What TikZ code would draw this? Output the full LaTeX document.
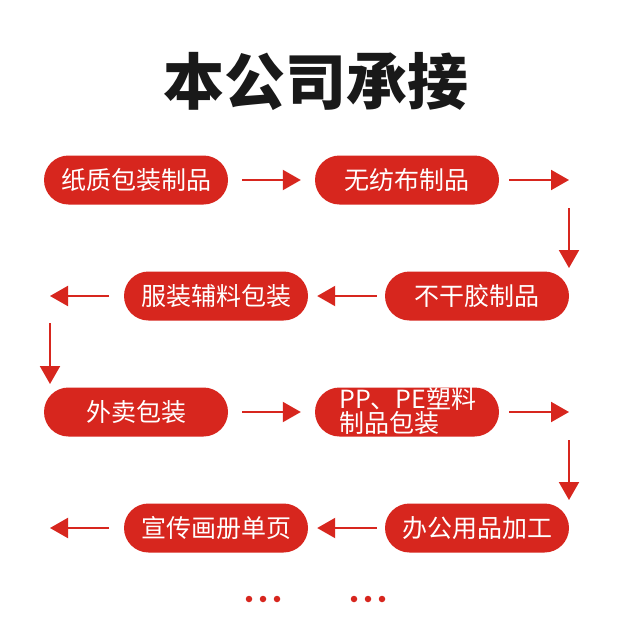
\documentclass[tikz,border=0pt]{standalone}
\usepackage{fontspec}
\newfontfamily\cjk{Noto Sans CJK SC}
\usetikzlibrary{arrows.meta}
\definecolor{brandred}{HTML}{D7261E}
\tikzset{
  pill/.style={fill=brandred, rounded corners=24.5pt, minimum width=184pt, minimum height=49pt,
    inner sep=0pt, text=white, font=\cjk\fontsize{25}{25}\selectfont},
  arr/.style={draw=brandred, line width=2pt, -{Triangle[length=18pt,width=20pt]}},
  dot/.style={circle, fill=brandred, inner sep=0pt, minimum size=6.5pt}
}
\begin{document}
\begin{tikzpicture}[x=1pt,y=-1pt]
\useasboundingbox (0,0) rectangle (633,637);
\fill[white] (0,0) rectangle (633,637);
\node[font=\cjk\bfseries\fontsize{61}{61}\selectfont, text=black!90] (title) at (316,81) {本公司承接};
% row 1
\node[pill] (n1) at (136,180) {纸质包装制品};
\node[pill] (n2) at (407,180) {无纺布制品};
% row 2
\node[pill] (n3) at (477,296) {不干胶制品};
\node[pill] (n4) at (216,296) {服装辅料包装};
% row 3
\node[pill] (n5) at (136,412) {外卖包装};
\node[pill] (n6) at (407,412) {};
\node[font=\cjk\fontsize{25}{21.5}\selectfont, text=white, align=left, anchor=west, inner sep=0pt] (n6t) at (339,411) {PP、PE塑料\\制品包装};
% row 4
\node[pill] (n7) at (477,528) {办公用品加工};
\node[pill] (n8) at (216,528) {宣传画册单页};
% free ends
\coordinate (r1s) at (509,180); \coordinate (r1e) at (569,180);
\coordinate (d1s) at (569,208); \coordinate (d1e) at (569,268);
\coordinate (l2s) at (109,296); \coordinate (l2e) at (50,296);
\coordinate (d2s) at (50,323); \coordinate (d2e) at (50,384);
\coordinate (r3s) at (509,412); \coordinate (r3e) at (569,412);
\coordinate (d3s) at (569,440); \coordinate (d3e) at (569,500);
\coordinate (l4s) at (109,528); \coordinate (l4e) at (50,528);
% arrows
\draw[arr] ([xshift=14pt]n1.east) -- ([xshift=-14pt]n2.west);
\draw[arr] (r1s) -- (r1e);
\draw[arr] (d1s) -- (d1e);
\draw[arr] ([xshift=-8pt]n3.west) -- ([xshift=9pt]n4.east);
\draw[arr] (l2s) -- (l2e);
\draw[arr] (d2s) -- (d2e);
\draw[arr] ([xshift=14pt]n5.east) -- ([xshift=-14pt]n6.west);
\draw[arr] (r3s) -- (r3e);
\draw[arr] (d3s) -- (d3e);
\draw[arr] ([xshift=-8pt]n7.west) -- ([xshift=9pt]n8.east);
\draw[arr] (l4s) -- (l4e);
% dots
\node[dot] (a1) at (249,599) {};
\node[dot] (a2) at (263,599) {};
\node[dot] (a3) at (277,599) {};
\node[dot] (b1) at (354,599) {};
\node[dot] (b2) at (368,599) {};
\node[dot] (b3) at (382,599) {};
\end{tikzpicture}
\end{document}
